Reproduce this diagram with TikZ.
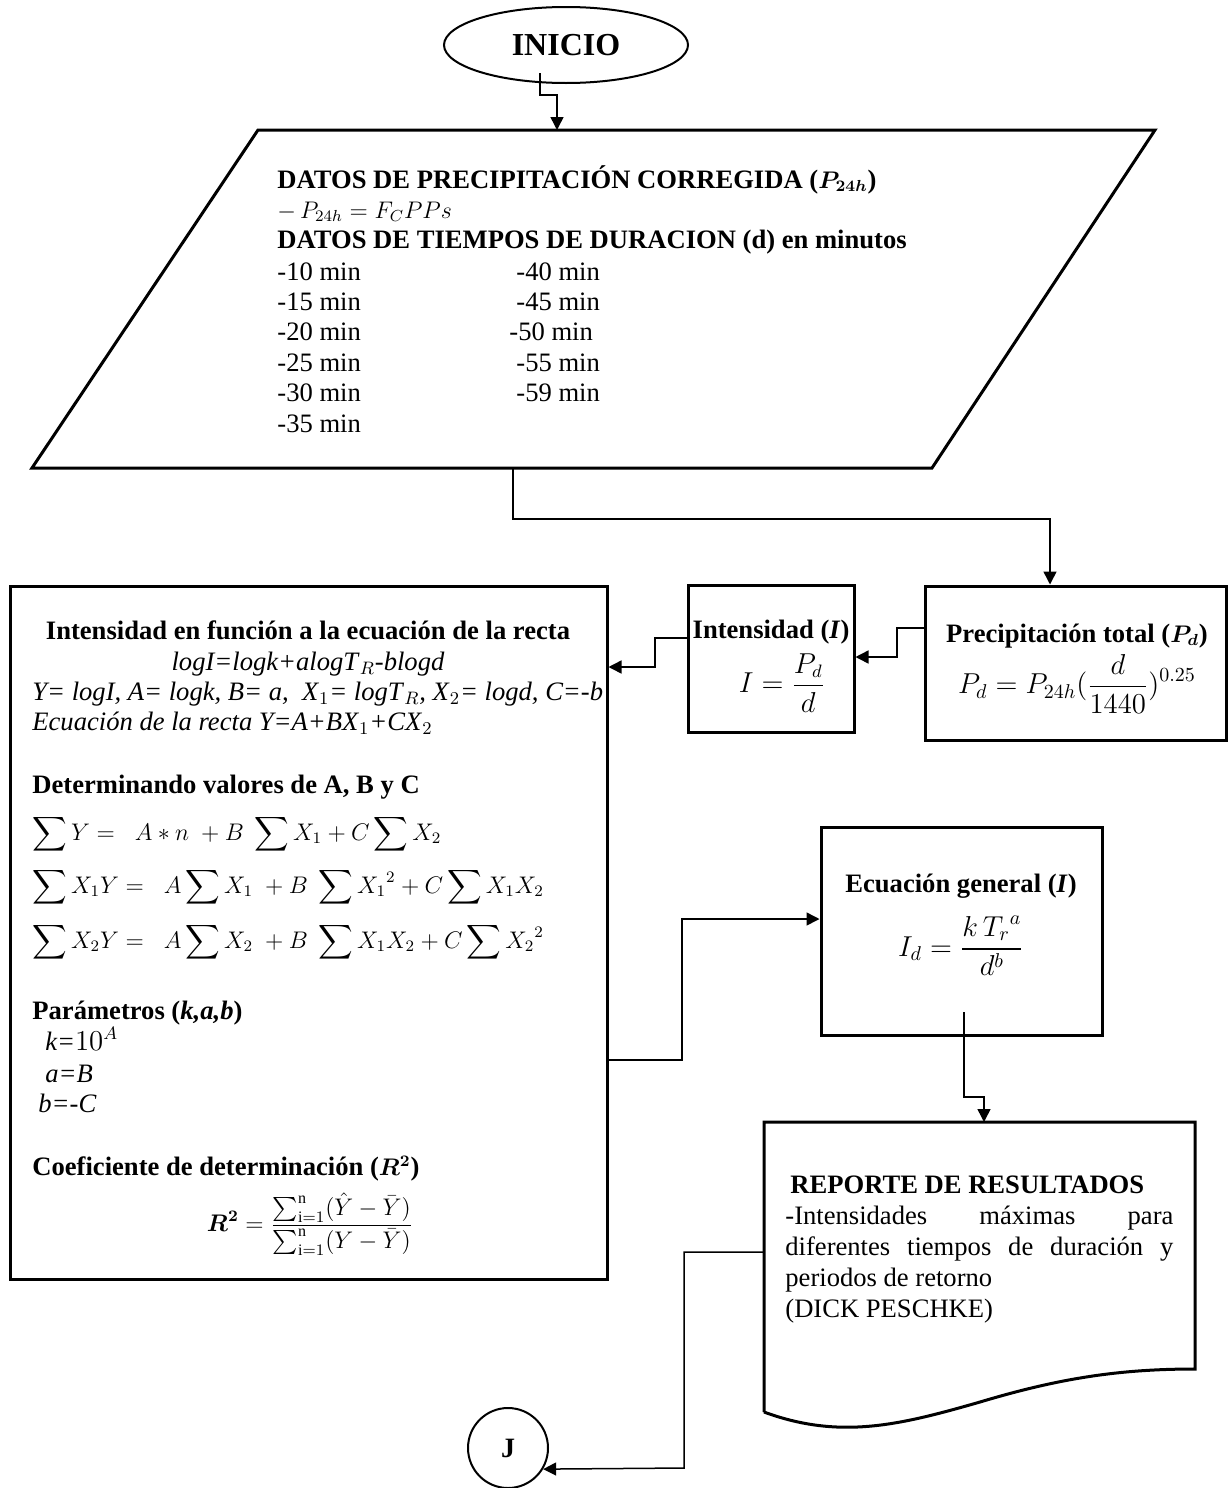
\documentclass[tikz,border=0pt]{standalone}
\usepackage{amsmath}
\usepackage{fontspec}
\setmainfont{Liberation Serif}
\usetikzlibrary{shapes.geometric,arrows.meta}
\tikzset{
  conn/.style={line width=0.75pt, -{Triangle[length=6.5pt,width=6.5pt]}},
  boxs/.style={draw, line width=1.5pt, rectangle, inner sep=0pt},
  shapeline/.style={line width=1.5pt, line join=miter},
  txt/.style={anchor=base west, inner sep=0pt, font=\fontsize{13.3}{15.5}\selectfont},
  ctxt/.style={anchor=base, inner sep=0pt, font=\fontsize{13.3}{15.5}\selectfont},
  mtxt/.style={anchor=center, inner sep=0pt, font=\fontsize{13.3}{15.5}\selectfont},
  msmall/.style={font=\fontsize{12}{15}\selectfont},
}
\begin{document}
\begin{tikzpicture}[x=0.5pt,y=-0.5pt]
\useasboundingbox (0,0) rectangle (1229,1488);

% ---------- INICIO ----------
\node[draw, ellipse, line width=1pt, minimum width=122pt, minimum height=38pt, inner sep=0pt,
      font=\fontsize{16}{19}\selectfont\bfseries] (inicio) at (566,45) {INICIO};

% ---------- parallelogram (data input) ----------
\coordinate (parTL) at (258,130);
\coordinate (parTR) at (1155,130);
\coordinate (parBR) at (932,468);
\coordinate (parBL) at (32,468);
\draw[shapeline] (parTL) -- (parTR) -- (parBR) -- (parBL) -- cycle;
\coordinate (parin) at (557,130);
\coordinate (parout) at (513,468);

\node[txt] (d1) at (277,188) {\textbf{DATOS DE PRECIPITACIÓN CORREGIDA (}{\fontsize{12}{15}\selectfont\boldmath$P_{24h}$}\textbf{)}};
\node[txt, msmall] (d2) at (277,218) {$-\,P_{24h}=F_CPPs$};
\node[txt] (d3) at (277,248) {\textbf{DATOS DE TIEMPOS DE DURACION (d) en minutos}};
\node[txt] (m10) at (277,280) {-10 min};
\node[txt] (m15) at (277,310) {-15 min};
\node[txt] (m20) at (277,340) {-20 min};
\node[txt] (m25) at (277,371) {-25 min};
\node[txt] (m30) at (277,401) {-30 min};
\node[txt] (m35) at (277,432) {-35 min};
\node[txt] (m40) at (516,280) {-40 min};
\node[txt] (m45) at (516,310) {-45 min};
\node[txt] (m50) at (509,340) {-50 min};
\node[txt] (m55) at (516,371) {-55 min};
\node[txt] (m59) at (516,401) {-59 min};

% ---------- boxes ----------
\node[boxs, minimum width=150.5pt, minimum height=77pt] (prec) at (1075.5,663) {};
\node[boxs, minimum width=83pt, minimum height=73.5pt] (inten) at (771,658.5) {};
\node[boxs, minimum width=298.5pt, minimum height=346.5pt] (big) at (308.5,932.5) {};
\node[boxs, minimum width=140.5pt, minimum height=104pt] (ecu) at (961.5,931) {};

% precipitation box text
\node[ctxt] (p1) at (1077,642) {\textbf{Precipitación total (}{\fontsize{12}{15}\selectfont\boldmath$P_d$}\textbf{)}};
\node[mtxt, font=\fontsize{14.5}{17}\selectfont] (p2) at (1077,684) {$\displaystyle P_d = P_{24h}(\frac{d}{1440})^{0.25}$};

% intensity box text
\node[ctxt] (i1) at (771,638) {\textbf{Intensidad (\textit{I})}};
\node[mtxt] (i2) at (782,683) {$\displaystyle I=\frac{P_d}{d}$};

% big box text
\node[ctxt] (b1) at (308,639) {\textbf{Intensidad en función a la ecuación de la recta}};
\node[ctxt] (b2) at (308,670) {\textit{logI=logk+alogT}$_R$\textit{-blogd}};
\node[txt] (b3) at (32,700) {\textit{Y= logI, A= logk, B= a,\ \ X}$_1$\textit{= logT}$_R$\textit{, X}$_2$\textit{= logd, C=-b}};
\node[txt] (b4) at (32,730) {\textit{Ecuación de la recta Y=A+BX}$_1$\textit{+CX}$_2$};
\node[txt] (b5) at (32,793) {\textbf{Determinando valores de A, B y C}};
\node[txt, msmall] (b6) at (32,840) {$\displaystyle\sum Y = \;\; A*n\; + B\;\sum X_1 + C\sum X_2$};
\node[txt, msmall] (b7) at (32,893) {$\displaystyle\sum X_1Y = \;\; A\sum X_1\; + B\;\sum {X_1}^2 + C\sum X_1X_2$};
\node[txt, msmall] (b8) at (32,948) {$\displaystyle\sum X_2Y = \;\; A\sum X_2\; + B\;\sum X_1X_2 + C\sum {X_2}^2$};
\node[txt] (b9) at (32,1019) {\textbf{Parámetros (\textit{k,a,b})}};
\node[txt] (b10) at (45,1050) {\textit{k=}$10^{A}$};
\node[txt] (b11) at (45,1082) {\textit{a=B}};
\node[txt] (b12) at (38,1112) {\textit{b=-C}};
\node[txt] (b13) at (32,1175) {\textbf{Coeficiente de determinación (}{\fontsize{12}{15}\selectfont\boldmath$R^2$}\textbf{)}};
\node[mtxt, msmall] (b14) at (310,1224) {$\displaystyle \boldsymbol{R^2} = \frac{\sum_{\mathrm{i}=1}^{\mathrm{n}}(\hat{Y}-\bar{Y})}{\sum_{\mathrm{i}=1}^{\mathrm{n}}(Y-\bar{Y})}$};

% general equation box text
\node[ctxt] (e1) at (961,892) {\textbf{Ecuación general (\textit{I})}};
\node[mtxt, font=\fontsize{14.5}{17}\selectfont] (e2) at (961,946) {$\displaystyle I_d=\frac{k\,{T_r}^{a}}{d^{b}}$};

% ---------- report (document shape) ----------
\coordinate (repTL) at (764,1122);
\coordinate (repTR) at (1195,1122);
\draw[shapeline] (764,1412) -- (repTL) -- (repTR) -- (1195,1369)
  .. controls (1120,1369) and (1060,1378) .. (980,1402)
  .. controls (900,1425) and (840,1440) .. (764,1412);
\coordinate (repin) at (984,1122);
\coordinate (repout) at (764,1252);
\node[txt] (r1) at (790,1193) {\textbf{REPORTE DE RESULTADOS}};
\node[txt] (r2) at (785,1224) {\parbox[t]{194pt}{\hyphenpenalty=10000\baselineskip=15.5pt
  -Intensidades máximas para\linebreak diferentes tiempos de duración y\linebreak periodos de retorno\par
  (DICK PESCHKE)}};

% ---------- connector J ----------
\node[draw, circle, line width=1pt, minimum size=40pt, inner sep=0pt,
      font=\fontsize{14}{16}\selectfont\bfseries] (J) at (508,1448) {J};

% ---------- connectors ----------
\coordinate (c1s) at (540,73);
\coordinate (c1j) at (557,95);
\draw[conn] (c1s) |- (c1j) -- (parin);

\coordinate (c2j) at (1050,519);
\draw[conn] (parout) |- (c2j) -- (c2j |- prec.north);

\coordinate (c3a) at (897,628);
\coordinate (c3b) at (897,657);
\draw[conn] (prec.west |- c3a) -- (c3a) |- (inten.east |- c3b);

\coordinate (c4a) at (655,638);
\coordinate (c4b) at (655,667);
\draw[conn] (inten.west |- c4a) -- (c4a) |- (big.east |- c4b);

\coordinate (c5a) at (682,1060);
\coordinate (c5b) at (682,919);
\draw[conn] (big.east |- c5a) -- (c5a) |- (ecu.west |- c5b);

\coordinate (c6s) at (964,1012);
\coordinate (c6j) at (984,1097);
\draw[conn] (c6s) |- (c6j) -- (repin);

\coordinate (c7) at (684,1468);
\draw[conn] (repout) -| (c7) -- (J.-31);
\end{tikzpicture}
\end{document}
